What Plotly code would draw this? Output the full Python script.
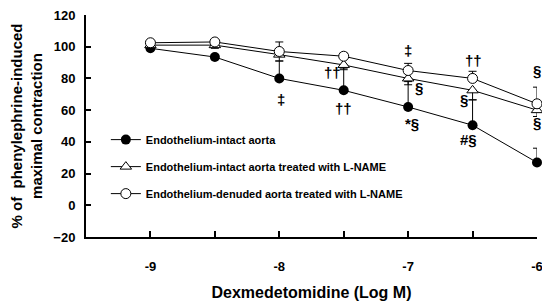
import plotly.graph_objects as go

# Data
log_conc = [-9, -8.5, -8, -7.5, -7, -6.5, -6]
intact = [99, 93.5, 80, 72.5, 62, 50.5, 27]
intact_err = [1.5, 1.5, 11, 14, 16, 16, 9]
intact_lname = [101, 101, 95, 88.5, 80, 72.5, 60]
intact_lname_err = [2, 2, 4, 3, 4, 6, 4]
denuded_lname = [102.5, 103, 97, 94, 85, 80, 64]
denuded_lname_err = [1.5, 1.5, 6, 2, 4.5, 4.5, 10.5]

series_names = ["Endothelium-intact aorta",
                "Endothelium-intact aorta treated with L-NAME",
                "Endothelium-denuded aorta treated with L-NAME"]

tick_vals = [-9, -8, -7, -6]
tick_text = ["-9", "-8", "-7", "-6"]
minor_vals = [-8.5, -7.5, -6.5]

# significance marks: (x, y, text)
marks = [(-7.985, 67, "‡"), (-7.59, 84, "††"), (-7.5, 61, "††"),
         (-7.0, 97.5, "‡"), (-6.915, 74.5, "§"), (-6.97, 51.5, "*§"),
         (-6.49, 91.5, "††"), (-6.57, 67, "§"), (-6.53, 41.5, "#§"),
         (-6.0, 85, "§"), (-6.0, 52, "§"), (-5.97, 16, "†§")]

FONT = "Liberation Sans, Arial, sans-serif"

fig = go.Figure()
fig.add_trace(go.Scatter(
    x=log_conc, y=intact, name=series_names[0], mode="lines+markers",
    line=dict(color="black", width=1),
    marker=dict(symbol="circle", size=10, color="black"),
    error_y=dict(type="data", symmetric=False, array=intact_err,
                 arrayminus=[0] * 7, color="black", thickness=1, width=4),
    legendgroup="a", cliponaxis=False))
fig.add_trace(go.Scatter(
    x=log_conc, y=intact_lname, name=series_names[1], mode="lines+markers",
    line=dict(color="black", width=1),
    marker=dict(symbol="triangle-up", size=10, color="white",
                line=dict(color="black", width=1)),
    error_y=dict(type="data", symmetric=False, array=[0] * 7,
                 arrayminus=intact_lname_err, color="black", thickness=1, width=4),
    legendgroup="b", cliponaxis=False))
fig.add_trace(go.Scatter(
    x=log_conc, y=denuded_lname, name=series_names[2], mode="lines+markers",
    line=dict(color="black", width=1),
    marker=dict(symbol="circle", size=10, color="white",
                line=dict(color="black", width=1)),
    error_y=dict(type="data", symmetric=False, array=denuded_lname_err,
                 arrayminus=[0] * 7, color="black", thickness=1, width=4),
    legendgroup="c", cliponaxis=False))

for mx, my, mt in marks:
    fig.add_annotation(x=mx, y=my, text=mt, showarrow=False,
                       font=dict(family=FONT, size=15, color="black", weight="bold"))

fig.update_layout(
    width=542, height=299,
    margin=dict(l=78, r=13, t=7, b=70, autoexpand=False),
    paper_bgcolor="white", plot_bgcolor="white",
    font=dict(family=FONT, color="black"),
    showlegend=True,
    legend=dict(x=0.044, y=0.504, xanchor="left", yanchor="top",
                bgcolor="rgba(0,0,0,0)", traceorder="grouped", tracegroupgap=8,
                font=dict(family=FONT, size=11, color="black", weight="bold"),
                itemwidth=30),
    xaxis=dict(range=[-9.5, -6], showgrid=False, zeroline=False, automargin=False,
               showline=True, linecolor="black", linewidth=2,
               tickmode="array", tickvals=tick_vals, ticktext=tick_text,
               ticks="inside", ticklen=6, tickwidth=2, tickcolor="black",
               ticklabelstandoff=16, ticklabeloverflow="allow",
               minor=dict(tickvals=minor_vals, ticks="inside", ticklen=6,
                          tickwidth=2, tickcolor="black"),
               tickfont=dict(family=FONT, size=13, color="black", weight="bold"),
               title=dict(text="Dexmedetomidine (Log M)", standoff=14,
                          font=dict(family=FONT, size=16, color="black", weight="bold"))),
    yaxis=dict(range=[-20, 120], showgrid=False, zeroline=False, automargin=False,
               showline=True, linecolor="black", linewidth=2,
               tickmode="linear", tick0=-20, dtick=20,
               ticks="inside", ticklen=5, tickwidth=2, tickcolor="black",
               ticklabelstandoff=6, ticklabeloverflow="allow",
               tickfont=dict(family=FONT, size=13, color="black", weight="bold"),
               title=dict(text="% of  phenylephrine-induced<br>maximal contraction",
                          standoff=8,
                          font=dict(family=FONT, size=15, color="black", weight="bold"))),
)

fig.write_html("out.html")
